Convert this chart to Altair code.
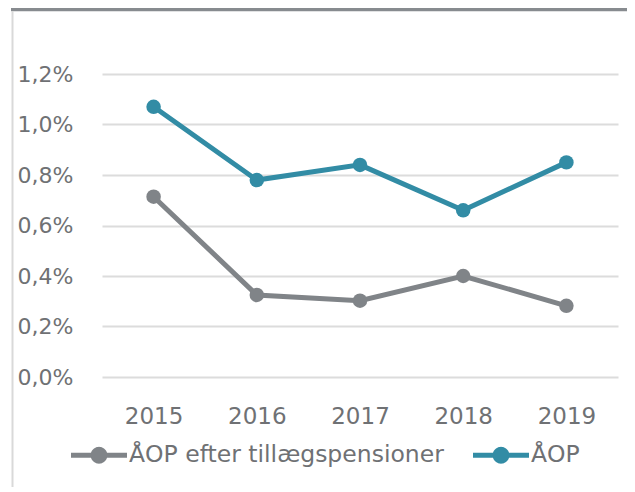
import math
import altair as alt
import pandas as pd

years = ["2015", "2016", "2017", "2018", "2019"]
aop = [1.07, 0.78, 0.84, 0.66, 0.85]
aop_efter = [0.714, 0.325, 0.302, 0.40, 0.282]
series_names = ["ÅOP efter tillægspensioner", "ÅOP"]
series_colors = ["#808488", "#328ca5"]
y_ticks = [0.0, 0.2, 0.4, 0.6, 0.8, 1.0, 1.2]

rows = []
for y, v in zip(years, aop_efter):
    rows.append({"year": y, "value": v, "series": series_names[0]})
for y, v in zip(years, aop):
    rows.append({"year": y, "value": v, "series": series_names[1]})
df = pd.DataFrame(rows)

FONT = "DejaVu Sans"
TXT = "#6f7174"
W, H = 516, 303

x_enc = alt.X("year:O", scale=alt.Scale(paddingOuter=0.5),
              axis=alt.Axis(title=None, labelAngle=0, labelFontSize=23, labelColor=TXT,
                            labelFont=FONT, ticks=False, domain=False, labelPadding=28,
                            grid=False))
y_enc = alt.Y("value:Q", scale=alt.Scale(domain=[0, 1.2]),
              axis=alt.Axis(title=None, values=y_ticks, labelFontSize=22, labelColor=TXT,
                            labelFont=FONT, ticks=False, domain=False, labelPadding=29,
                            gridColor="#dcdcdc", gridWidth=2,
                            labelExpr="replace(format(datum.value, '.1f'), '.', ',') + '%'"))

# legend symbol: thick line with a dot in the middle (polygon outline)
h = 0.09
r = 0.3
a0 = math.asin(h / r)
n = 20
top_arc = []
for i in range(n + 1):
    a = math.pi - a0 - (math.pi - 2 * a0) * i / n
    top_arc.append((r * math.cos(a), -r * math.sin(a)))
bottom_arc = []
for i in range(n + 1):
    a = a0 + (math.pi - 2 * a0) * i / n
    bottom_arc.append((r * math.cos(a), r * math.sin(a)))
pts = [(-1, -h)] + top_arc + [(1, -h), (1, h)] + bottom_arc + [(-1, h)]
sym = "M" + "L".join(f"{x:.4f},{y:.4f}" for x, y in pts) + "Z"

color_enc = alt.Color("series:N",
                      scale=alt.Scale(domain=series_names, range=series_colors),
                      legend=alt.Legend(title=None, orient="none", direction="horizontal",
                                        legendX=-31, legendY=353,
                                        symbolType=sym, symbolSize=3136,
                                        symbolStrokeWidth=0, labelFontSize=23.5,
                                        labelColor=TXT, labelFont=FONT, labelOffset=2,
                                        labelLimit=0, columnPadding=29))

lines = alt.Chart(df).mark_line(strokeWidth=5).encode(x=x_enc, y=y_enc, color=color_enc)
points = alt.Chart(df).mark_circle(size=210, opacity=1).encode(x=x_enc, y=y_enc, color=color_enc)

deco = pd.DataFrame({"k": [0]})
top_line = alt.Chart(deco).mark_rule(color="#878b8f", strokeWidth=3.5).encode(
    x=alt.value(-91), x2=alt.value(W + 40), y=alt.value(-64.5))
left_line = alt.Chart(deco).mark_rule(color="#d9d9d9", strokeWidth=2).encode(
    x=alt.value(-89.5), y=alt.value(-63), y2=alt.value(H + 120))

chart = alt.layer(top_line, left_line, lines, points).properties(
    width=W, height=H,
    background="white",
    autosize=alt.AutoSizeParams(type="none"),
    padding={"left": 94, "top": 66, "right": 9, "bottom": 110},
).configure_view(stroke=None, strokeWidth=0)

chart.save("out.html", embed_options={"renderer": "svg", "actions": False})
